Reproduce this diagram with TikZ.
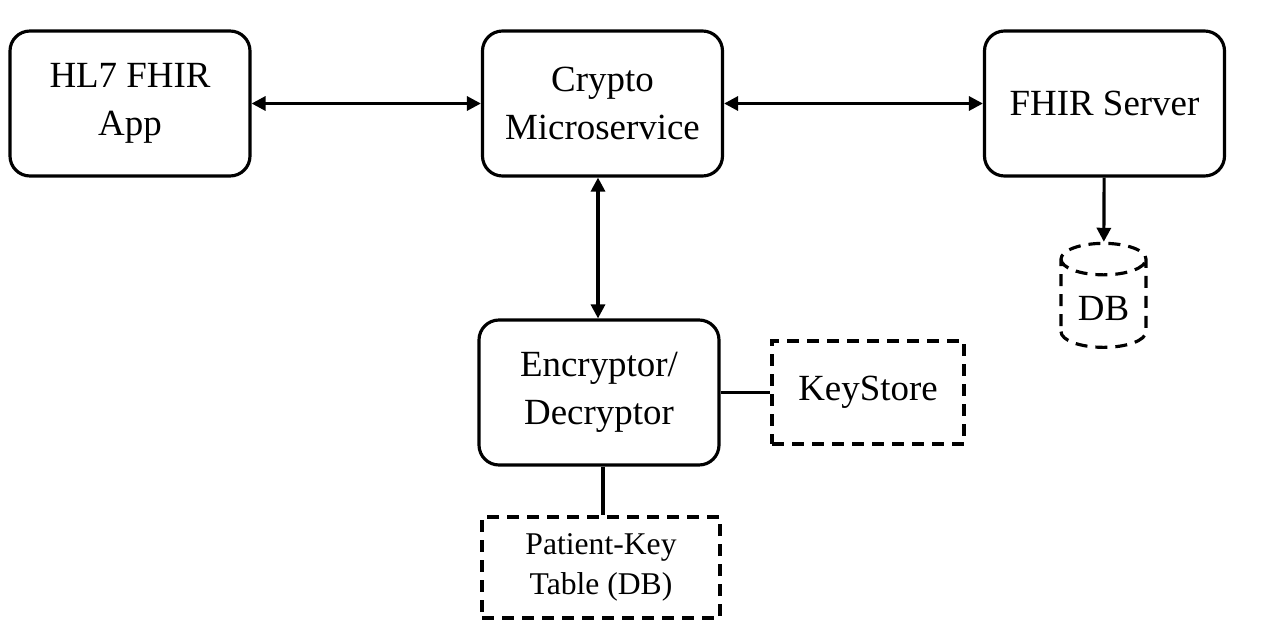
\documentclass[tikz,border=0pt]{standalone}
\usepackage{fontspec}
\setmainfont{Liberation Serif}
\usepackage{tikz}
\usetikzlibrary{arrows.meta,shapes.geometric}
\tikzset{
  block/.style={draw,line width=1.8pt,rounded corners=0.4cm,minimum width=4.8cm,
    minimum height=2.9cm,align=center,font=\fontsize{21}{27}\selectfont},
  store/.style={draw,line width=1.8pt,dash pattern=on 2.4mm off 1.6mm,align=center},
  link/.style={line width=1.8pt},
  both/.style={link,{Triangle[length=2.8mm,width=2.8mm]}-{Triangle[length=2.8mm,width=2.8mm]}},
  tip/.style={link,-{Triangle[length=2.8mm,width=2.8mm]}}
}

\begin{document}
\begin{tikzpicture}[x=0.2mm,y=-0.2mm]
    \useasboundingbox (0,0) rectangle (1263,633);
    % main blocks
    \node[block] (app) at (130,103.5) {HL7 FHIR\\App};
    \node[block] (crypto) at (602.5,103.5) {Crypto\\Microservice};
    \node[block] (server) at (1104.5,103.5) {FHIR Server};
    \node[block] (encdec) at (599,392.5) {Encryptor/\\Decryptor};
    % storage
    \node[store,minimum width=3.84cm,minimum height=2.06cm,font=\fontsize{21}{27}\selectfont]
      (keystore) at (868,392.5) {KeyStore};
    \node[store,minimum width=4.76cm,minimum height=2.02cm,font=\fontsize{18}{23}\selectfont]
      (patkey) at (601,567.5) {Patient-Key\\Table (DB)};
    \node[store,cylinder,shape border rotate=90,aspect=0.5,minimum width=1.7cm,
      minimum height=2.08cm,font=\fontsize{21}{27}\selectfont] (db) at (1103.5,308) {DB};
    % connections
    \draw[both] (app) -- (crypto);
    \draw[both] (crypto) -- (server);
    \draw[both] (crypto.south -| 598,0) -- (encdec.north -| 598,0);
    \draw[tip] (server) -- (db);
    \draw[link] (encdec) -- (keystore);
    \draw[link] (encdec.south -| 603,0) -- (patkey.north -| 603,0);
\end{tikzpicture}
\end{document}
